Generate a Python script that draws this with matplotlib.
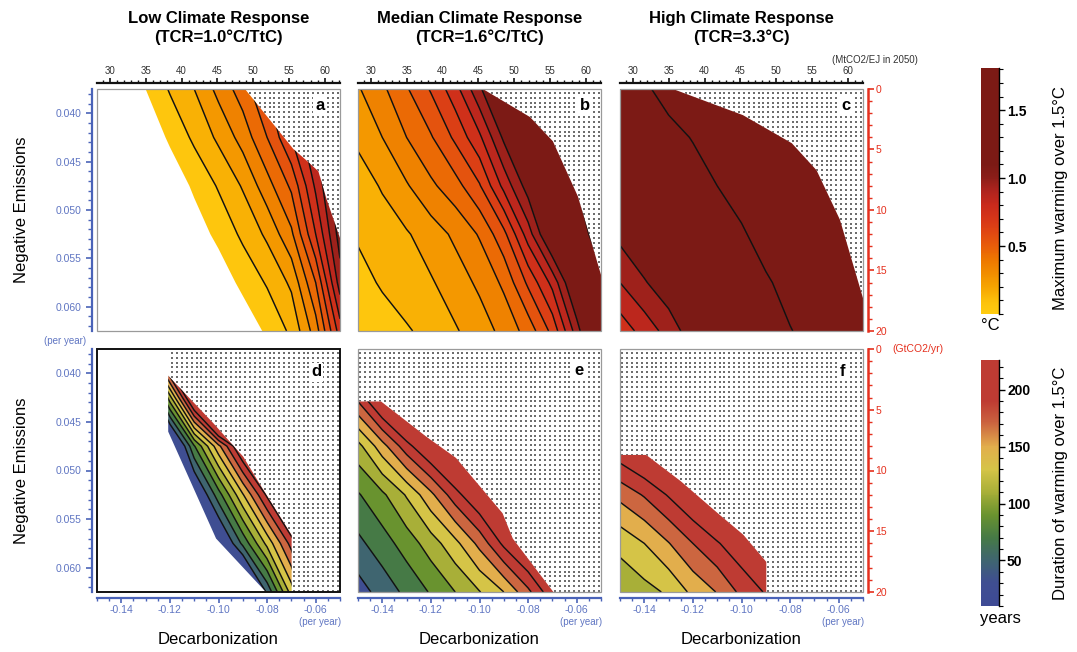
import numpy as np
import matplotlib
matplotlib.use('Agg')
import matplotlib.pyplot as plt
import matplotlib as mpl
from matplotlib.colors import LinearSegmentedColormap, Normalize
from matplotlib.patches import Polygon, Rectangle
from matplotlib.ticker import MultipleLocator, FixedLocator, FormatStrFormatter

plt.rcParams['font.family'] = ['Liberation Sans', 'DejaVu Sans']
plt.rcParams['axes.unicode_minus'] = False

# ---------------- data ----------------
decarb = [-0.15, -0.14, -0.13, -0.12, -0.11, -0.10, -0.09, -0.08, -0.07, -0.06, -0.05]
neg_em = [0.0375, 0.0425, 0.0475, 0.0525, 0.0575, 0.0625]

# maximum warming over 1.5C (degC); rows follow neg_em, columns follow decarb
warm_low = [
    [-0.23, -0.11, 0.00, 0.11, 0.20, 0.33, 0.45, 0.60, 0.75, 0.90, 1.05],
    [-0.32, -0.20, -0.09, 0.02, 0.12, 0.22, 0.34, 0.50, 0.70, 0.90, 1.10],
    [-0.40, -0.30, -0.19, -0.08, 0.02, 0.11, 0.21, 0.36, 0.52, 0.82, 1.10],
    [-0.50, -0.40, -0.30, -0.18, -0.06, 0.03, 0.12, 0.22, 0.38, 0.70, 1.05],
    [-0.60, -0.50, -0.40, -0.28, -0.17, -0.07, 0.03, 0.11, 0.22, 0.50, 0.95],
    [-0.70, -0.60, -0.50, -0.38, -0.27, -0.17, -0.08, 0.02, 0.12, 0.35, 0.75],
]
warm_med = [
    [0.29, 0.38, 0.49, 0.61, 0.76, 0.98, 1.20, 1.40, 1.60, 1.80, 2.00],
    [0.22, 0.30, 0.40, 0.49, 0.62, 0.78, 1.02, 1.25, 1.45, 1.65, 1.85],
    [0.15, 0.21, 0.29, 0.38, 0.46, 0.59, 0.83, 1.05, 1.30, 1.50, 1.70],
    [0.11, 0.15, 0.19, 0.25, 0.32, 0.41, 0.57, 0.85, 1.15, 1.40, 1.60],
    [0.07, 0.11, 0.15, 0.19, 0.25, 0.32, 0.42, 0.62, 0.83, 1.15, 1.45],
    [0.03, 0.06, 0.09, 0.13, 0.19, 0.25, 0.33, 0.44, 0.63, 0.95, 1.30],
]
warm_high = [
    [1.36, 1.47, 1.57, 1.66, 1.75, 1.85, 1.95, 2.05, 2.15, 2.25, 2.35],
    [1.28, 1.36, 1.44, 1.51, 1.60, 1.70, 1.80, 1.90, 2.00, 2.10, 2.20],
    [1.18, 1.26, 1.34, 1.42, 1.50, 1.60, 1.70, 1.82, 1.94, 2.05, 2.15],
    [1.03, 1.10, 1.18, 1.27, 1.36, 1.47, 1.60, 1.72, 1.83, 1.93, 2.03],
    [0.90, 0.99, 1.07, 1.15, 1.24, 1.33, 1.47, 1.58, 1.68, 1.78, 1.88],
    [0.74, 0.84, 0.94, 1.06, 1.18, 1.29, 1.40, 1.49, 1.58, 1.67, 1.76],
]
# duration of warming over 1.5C (years)
dur_low = [
    [-120, 10, 140, 270, 400, 530, 600, 650, 700, 750, 800],
    [-280, -150, -19, 112, 243, 374, 450, 500, 550, 600, 650],
    [-250, -170, -95, -20, 78, 154, 229, 305, 380, 455, 530],
    [-260, -195, -128, -61, 5, 71, 138, 204, 270, 336, 400],
    [-300, -240, -180, -120, -58, 3, 65, 126, 188, 249, 310],
    [-550, -465, -380, -296, -211, -126, -41, 44, 129, 214, 299],
]
dur_med = [
    [260, 300, 330, 350, 370, 390, 400, 410, 420, 430, 440],
    [186, 235, 270, 300, 320, 340, 360, 380, 400, 420, 440],
    [113, 152, 192, 225, 250, 275, 300, 320, 340, 360, 380],
    [78, 96, 122, 155, 192, 222, 250, 275, 300, 320, 340],
    [55, 71, 89, 110, 134, 166, 205, 235, 260, 285, 310],
    [31, 48, 65, 82, 100, 119, 140, 175, 215, 250, 280],
]
dur_high = [
    [300, 320, 340, 360, 380, 400, 420, 440, 460, 480, 500],
    [260, 280, 300, 315, 330, 345, 360, 375, 390, 405, 420],
    [218, 235, 252, 268, 282, 296, 310, 324, 338, 352, 366],
    [166, 182, 202, 222, 240, 258, 275, 292, 309, 326, 343],
    [126, 140, 159, 180, 198, 215, 235, 255, 275, 295, 315],
    [105, 113, 123, 145, 161, 185, 202, 222, 240, 260, 280],
]

# boundaries of the infeasible (stippled) region, (decarbonization, negative emissions)
bnd_a = [(-0.0891, 0.0375), (-0.0692, 0.0437), (-0.0637, 0.0449), (-0.0589, 0.0460),
         (-0.0555, 0.0489), (-0.0500, 0.0529)]
bnd_b = [(-0.0986, 0.0375), (-0.0792, 0.0404), (-0.0698, 0.0429), (-0.0595, 0.0486),
         (-0.0500, 0.0567)]
bnd_c = [(-0.1282, 0.0375), (-0.0994, 0.0402), (-0.0793, 0.0431), (-0.0691, 0.0459),
         (-0.0595, 0.0510), (-0.0500, 0.0591)]
bnd_d_upper = [(-0.1207, 0.04025), (-0.1021, 0.04514), (-0.0898, 0.04858), (-0.0836, 0.05115),
               (-0.0699, 0.05664), (-0.0699, 0.0625)]
bnd_d_lower = [(-0.0805, 0.0625), (-0.1010, 0.0570), (-0.1207, 0.0460)]
bnd_e = [(-0.15, 0.0429), (-0.1405, 0.0429), (-0.1220, 0.0465), (-0.1097, 0.0487),
         (-0.0905, 0.0544), (-0.0863, 0.0570), (-0.0696, 0.0625)]
bnd_f = [(-0.15, 0.0484), (-0.1392, 0.0484), (-0.1250, 0.0511), (-0.1088, 0.0546),
         (-0.0993, 0.0566), (-0.0898, 0.0594), (-0.0898, 0.0625)]

titles = ["Low Climate Response\n(TCR=1.0°C/TtC)",
          "Median Climate Response\n(TCR=1.6°C/TtC)",
          "High Climate Response\n(TCR=3.3°C)"]
letters = ['a', 'b', 'c', 'd', 'e', 'f']

warm_levels = [0, 0.1, 0.2, 0.3, 0.4, 0.5, 0.6, 0.7, 0.8, 0.9, 1.0, 1.5, 10]
warm_lines = [0.1, 0.2, 0.3, 0.4, 0.5, 0.6, 0.7, 0.8, 0.9, 1.0, 1.5]
dur_levels = [-1e4, 40, 60, 80, 100, 120, 140, 160, 180, 200, 1e4]
dur_lines = [40, 60, 80, 100, 120, 140, 160, 180, 200]

warm_anchor_v = [0.0, 0.1, 0.2, 0.3, 0.4, 0.5, 0.6, 0.7, 0.8, 0.9, 1.0, 1.1, 1.81]
warm_anchor_c = ['#FFCC10', '#FCBF0A', '#F6A300', '#F18D00', '#ED7600', '#E85D0A', '#E04712',
                 '#D63618', '#C92A1C', '#B0241E', '#8C1E19', '#7C1A15', '#7C1A15']
dur_anchor_v = [10, 30, 50, 70, 90, 110, 130, 150, 170, 190, 226]
dur_anchor_c = ['#3E4A95', '#3F4E92', '#3F6570', '#467A46', '#6A932F', '#A8AF38', '#D5C447',
                '#E2AE4C', '#CC6640', '#BE3B33', '#BE3B33']

# ---------------- helpers ----------------
W, H = 1077, 652
PT = 72.0 / 100.0  # points per pixel at dpi 100
BLUE = '#4A63B8'
BLUE_T = '#5F75C2'
RED = '#E5301E'


def make_cmap(vals, cols):
    lo, hi = vals[0], vals[-1]
    return LinearSegmentedColormap.from_list(
        'c', [((v - lo) / (hi - lo), c) for v, c in zip(vals, cols)])


warm_cmap = make_cmap(warm_anchor_v, warm_anchor_c)
warm_norm = Normalize(warm_anchor_v[0], warm_anchor_v[-1])
dur_cmap = make_cmap(dur_anchor_v, dur_anchor_c)
dur_norm = Normalize(dur_anchor_v[0], dur_anchor_v[-1])


def band_colors(levels, cmap, norm, lo_mid, hi_mid):
    mids = []
    for i in range(len(levels) - 1):
        a, b = levels[i], levels[i + 1]
        if i == 0 and a < -100:
            mids.append(lo_mid)
        elif i == len(levels) - 2:
            mids.append(hi_mid)
        else:
            mids.append(0.5 * (a + b))
    return [cmap(norm(m)) for m in mids]


warm_cols = band_colors(warm_levels, warm_cmap, warm_norm, 0.05, 1.6)
dur_cols = band_colors(dur_levels, dur_cmap, dur_norm, 30, 210)


def rect(x0, y0, x1, y1):
    return [x0 / W, 1 - y1 / H, (x1 - x0) / W, (y1 - y0) / H]


to_mt = lambda x: 28.22 + (np.asarray(x) + 0.15) * 338.7
from_mt = lambda m: (np.asarray(m) - 28.22) / 338.7 - 0.15
to_gt = lambda y: (np.asarray(y) - 0.0375) / 0.025 * 20.0
from_gt = lambda g: np.asarray(g) / 20.0 * 0.025 + 0.0375

fig = plt.figure(figsize=(W / 100, H / 100), dpi=100)
fig.patch.set_facecolor('white')

xpos = [(97, 340), (358, 601), (620, 863)]
ypos = [(89, 331), (349, 592)]

X, Y = np.meshgrid(decarb, neg_em)
dgx, dgy = np.meshgrid(np.arange(-0.1490, -0.0500, 0.0020), np.arange(0.0379, 0.0625, 0.0005))

fields = [warm_low, warm_med, warm_high, dur_low, dur_med, dur_high]
corner_tl, corner_tr = (-0.15, 0.0375), (-0.05, 0.0375)
corner_bl, corner_br = (-0.15, 0.0625), (-0.05, 0.0625)

data_polys = [
    [corner_tl] + bnd_a + [corner_br, corner_bl],
    [corner_tl] + bnd_b + [corner_br, corner_bl],
    [corner_tl] + bnd_c + [corner_br, corner_bl],
    bnd_d_upper + bnd_d_lower,
    bnd_e + [corner_bl],
    bnd_f + [corner_bl],
]
dot_polys = [
    bnd_a + [corner_tr],
    bnd_b + [corner_tr],
    bnd_c + [corner_tr],
    [(-0.12, 0.0375), corner_tr, corner_br] + bnd_d_upper[::-1],
    bnd_e + [corner_br, corner_tr, corner_tl],
    bnd_f + [corner_br, corner_tr, corner_tl],
]
letter_pos = [(320, 106), (585, 106), (846, 106), (316, 372), (579, 370), (842, 371)]

for k in range(6):
    r, c = divmod(k, 3)
    ax = fig.add_axes(rect(xpos[c][0], ypos[r][0], xpos[c][1], ypos[r][1]))
    ax.set_facecolor('white')
    Z = np.array(fields[k], dtype=float)
    if r == 0:
        levels, cols, lines = warm_levels, warm_cols, warm_lines
    else:
        levels, cols, lines = dur_levels, dur_cols, dur_lines

    clip = Polygon(data_polys[k], closed=True, transform=ax.transData)
    cs = ax.contourf(X, Y, Z, levels=levels, colors=cols, zorder=2, antialiased=True)
    cs.set_clip_path(clip)
    cl = ax.contour(X, Y, Z, levels=lines, colors='#111111', linewidths=1.05, zorder=3)
    cl.set_clip_path(clip)

    sc = ax.scatter(dgx.ravel(), dgy.ravel(), s=0.75, c='#6e6e6e', marker='s',
                    linewidths=0, zorder=1)
    sc.set_clip_path(Polygon(dot_polys[k], closed=True, transform=ax.transData))

    ax.set_xlim(-0.15, -0.05)
    ax.set_ylim(0.0625, 0.0375)

    for s in ax.spines.values():
        s.set_visible(False)
    fc, flw = ('#111111', 1.4) if k == 3 else ('#9a9a9a', 0.9)
    ax.add_patch(Rectangle((0, 0), 1, 1, transform=ax.transAxes, fill=False, ec=fc, lw=flw,
                           zorder=10, clip_on=False))
    ax.tick_params(which='both', left=False, right=False, top=False, bottom=False,
                   labelleft=False, labelbottom=False)

    if c == 0:
        sp = ax.spines['left']
        sp.set_visible(True)
        sp.set_position(('outward', 5 * PT))
        sp.set_color(BLUE)
        sp.set_linewidth(1.6)
        ax.yaxis.set_major_locator(FixedLocator([0.040, 0.045, 0.050, 0.055, 0.060]))
        ax.yaxis.set_minor_locator(FixedLocator(np.arange(0.038, 0.0626, 0.001)))
        ax.yaxis.set_major_formatter(FormatStrFormatter('%.3f'))
        ax.tick_params(axis='y', which='both', left=True, labelleft=True, direction='out',
                       color=BLUE, labelcolor=BLUE_T, labelsize=7.5)
        ax.tick_params(axis='y', which='major', length=6 * PT, width=1.2, pad=4 * PT)
        ax.tick_params(axis='y', which='minor', length=4 * PT, width=1.0)
    if r == 1:
        sp = ax.spines['bottom']
        sp.set_visible(True)
        sp.set_position(('outward', 6 * PT))
        sp.set_color(BLUE)
        sp.set_linewidth(1.6)
        ax.xaxis.set_major_locator(FixedLocator([-0.14, -0.12, -0.10, -0.08, -0.06]))
        ax.xaxis.set_minor_locator(FixedLocator(np.arange(-0.15, -0.0499, 0.005)))
        ax.xaxis.set_major_formatter(FormatStrFormatter('%.2f'))
        ax.tick_params(axis='x', which='both', bottom=True, labelbottom=True, direction='out',
                       color=BLUE, labelcolor=BLUE_T, labelsize=7.5)
        ax.tick_params(axis='x', which='major', length=5 * PT, width=1.2, pad=2 * PT)
        ax.tick_params(axis='x', which='minor', length=3 * PT, width=1.0)
        px0 = xpos[c][1]
        fig.text((px0 - 20) / W, 1 - 622 / H, '(per year)', color=BLUE_T, fontsize=7,
                 ha='center', va='center')
        fig.text((xpos[c][0] + xpos[c][1]) / 2 / W, 1 - 640 / H, 'Decarbonization',
                 fontsize=12, ha='center', va='center')
    if r == 0:
        sec = ax.secondary_xaxis('top', functions=(to_mt, from_mt))
        sec.spines['top'].set_position(('outward', 6 * PT))
        sec.spines['top'].set_linewidth(1.6)
        sec.spines['top'].set_color('#111111')
        sec.xaxis.set_major_locator(MultipleLocator(5))
        sec.xaxis.set_minor_locator(MultipleLocator(1))
        sec.tick_params(which='both', direction='out', color='#111111', labelcolor='#333333',
                        labelsize=7)
        sec.tick_params(which='major', length=5 * PT, width=1.2, pad=2 * PT)
        sec.tick_params(which='minor', length=3 * PT, width=1.0)
    if c == 2:
        sec = ax.secondary_yaxis('right', functions=(to_gt, from_gt))
        sec.spines['right'].set_position(('outward', 5 * PT))
        sec.spines['right'].set_linewidth(1.8)
        sec.spines['right'].set_color(RED)
        sec.yaxis.set_major_locator(MultipleLocator(5))
        sec.yaxis.set_minor_locator(MultipleLocator(1))
        sec.tick_params(which='both', direction='out', color=RED, labelcolor=RED, labelsize=7.5)
        sec.tick_params(which='major', length=6 * PT, width=1.2, pad=1.5 * PT)
        sec.tick_params(which='minor', length=4 * PT, width=1.0)

    lx, ly = letter_pos[k]
    fig.text(lx / W, 1 - ly / H, letters[k], fontsize=12, fontweight='bold', ha='center',
             va='center', zorder=20,
             bbox=dict(boxstyle='square,pad=0.12', fc='white', ec='none'))

# titles and side labels
for c in range(3):
    fig.text((xpos[c][0] + xpos[c][1]) / 2 / W, 1 - 28 / H, titles[c], fontsize=12,
             fontweight='bold', ha='center', va='center', linespacing=1.25)
for r in range(2):
    fig.text(22 / W, 1 - (ypos[r][0] + ypos[r][1]) / 2 / H, 'Negative Emissions', fontsize=12,
             rotation=90, ha='center', va='center')

fig.text(65 / W, 1 - 341 / H, '(per year)', color=BLUE_T, fontsize=7, ha='center', va='center')
fig.text(918 / W, 1 - 60 / H, '(MtCO2/EJ in 2050)', color='#333333', fontsize=7, ha='right',
         va='center')
fig.text(892 / W, 1 - 349 / H, '(GtCO2/yr)', color=RED, fontsize=7.5, ha='left', va='center')

# colorbars
cb_specs = [
    (rect(981, 68, 999, 314), warm_cmap, warm_norm, [0.5, 1.0, 1.5], 0.1, '%.1f', '°C', 325,
     'Maximum warming over 1.5°C', 198),
    (rect(981, 360, 999, 606), dur_cmap, dur_norm, [50, 100, 150, 200], 10, '%d', 'years', 618,
     'Duration of warming over 1.5°C', 483),
]
for box, cmap, norm, ticks, minor, fmt, unit, uy, lab, laby in cb_specs:
    cax = fig.add_axes(box)
    cb = mpl.colorbar.ColorbarBase(cax, cmap=cmap, norm=norm, orientation='vertical')
    cb.outline.set_visible(False)
    cax.plot([1, 1], [0, 1], transform=cax.transAxes, color='k', lw=1.0, clip_on=False)
    cb.set_ticks(ticks)
    cax.yaxis.set_major_formatter(FormatStrFormatter(fmt))
    cax.yaxis.set_minor_locator(MultipleLocator(minor))
    cax.tick_params(which='both', direction='out', color='k', labelsize=10)
    cax.tick_params(which='major', length=6 * PT, width=1.0, pad=2 * PT)
    cax.tick_params(which='minor', length=4 * PT, width=0.8)
    for t in cax.get_yticklabels():
        t.set_fontweight('bold')
    fig.text((990 if unit == '°C' else 1000) / W, 1 - uy / H, unit, fontsize=12,
             ha='center', va='center')
    fig.text(1060 / W, 1 - laby / H, lab, fontsize=12, rotation=90, ha='center', va='center')

fig.savefig('out.png', dpi=100, facecolor='white')
